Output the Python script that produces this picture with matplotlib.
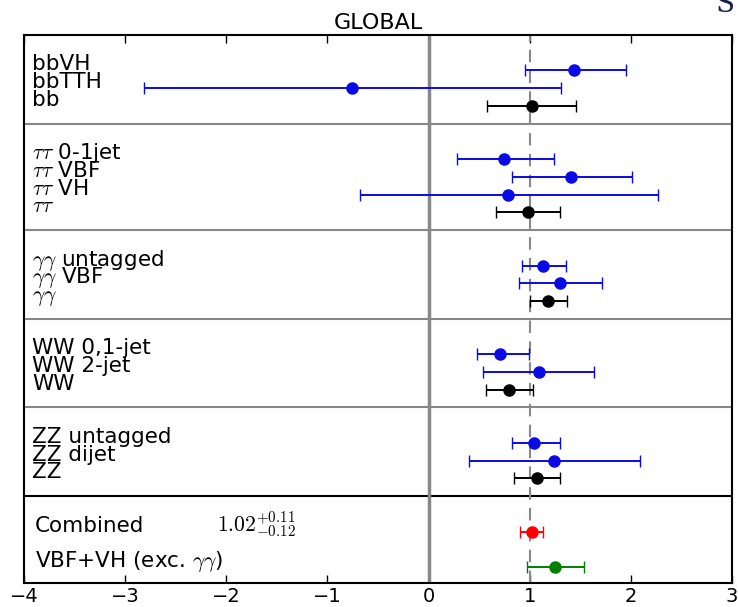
import numpy as np
import matplotlib.pyplot as plt
import matplotlib.transforms as mtransforms

plt.rcParams['mathtext.fontset'] = 'cm'
plt.rcParams['font.family'] = 'DejaVu Sans'

# data------------------------------------------------------------------------#
bb_labels = ['bbVH', 'bbTTH', 'bb']
bb_mu = [1.44, -0.76, 1.02]
bb_lo = [0.95, -2.81, 0.58]
bb_hi = [1.95, 1.31, 1.46]

tt_labels = [r'$\tau\tau$ 0-1jet', r'$\tau\tau$ VBF', r'$\tau\tau$ VH', r'$\tau\tau$']
tt_mu = [0.75, 1.41, 0.79, 0.98]
tt_lo = [0.28, 0.82, -0.68, 0.67]
tt_hi = [1.24, 2.01, 2.27, 1.30]

gg_labels = [r'$\gamma\gamma$ untagged', r'$\gamma\gamma$ VBF', r'$\gamma\gamma$']
gg_mu = [1.13, 1.30, 1.18]
gg_lo = [0.92, 0.89, 1.00]
gg_hi = [1.36, 1.71, 1.37]

ww_labels = ['WW 0,1-jet', 'WW 2-jet', 'WW']
ww_mu = [0.71, 1.09, 0.80]
ww_lo = [0.48, 0.54, 0.57]
ww_hi = [0.99, 1.64, 1.03]

zz_labels = ['ZZ untagged', 'ZZ dijet', 'ZZ']
zz_mu = [1.04, 1.24, 1.07]
zz_lo = [0.82, 0.40, 0.84]
zz_hi = [1.30, 2.09, 1.30]

comb_mu = 1.02
comb_up = 0.11
comb_dn = 0.12

vbfvh_label = r'VBF+VH (exc. $\gamma\gamma$)'
vbfvh_mu = 1.25
vbfvh_lo = 0.97
vbfvh_hi = 1.54

xticks = [-4, -3, -2, -1, 0, 1, 2, 3]

# figure----------------------------------------------------------------------#
fig = plt.figure(figsize=(7.38, 6.07), dpi=100)
ax = fig.add_axes([24/738, 1-583/607, 708/738, 548/607])
lab = mtransforms.blended_transform_factory(ax.transAxes, ax.transData)
fs = 15.5

def errpt(y, mu, lo, hi, c, lw=1.4):
    ax.errorbar([mu], [y], xerr=[[mu-lo], [hi-mu]], fmt='o', color=c, ecolor=c,
                ms=8, mec=c, elinewidth=lw, capsize=4, capthick=1, zorder=4)

groups = [(bb_labels, bb_mu, bb_lo, bb_hi),
          (tt_labels, tt_mu, tt_lo, tt_hi),
          (gg_labels, gg_mu, gg_lo, gg_hi),
          (ww_labels, ww_mu, ww_lo, ww_hi),
          (zz_labels, zz_mu, zz_lo, zz_hi)]

top = 0
for labels, mu, lo, hi in groups:
    n = len(labels)
    for i in range(n):
        y = top + 2 + i
        c = 'k' if i == n-1 else '#0a0ae6'
        errpt(y, mu[i], lo[i], hi[i], c)
        ax.text(0.012, y, labels[i], transform=lab, fontsize=fs, va='baseline')
    top += n + 2
    ax.axhline(top, color='k' if top >= 26 else '#888888', lw=1.5, zorder=2)

# combined
errpt(top+2, comb_mu, comb_mu-comb_dn, comb_mu+comb_up, 'r')
ax.text(0.015, top+2, 'Combined', transform=lab, fontsize=fs, va='baseline')
ax.text(0.272, top+2, r'$%.2f^{+%.2f}_{-%.2f}$' % (comb_mu, comb_up, comb_dn),
        transform=lab, fontsize=15.5, va='baseline')
errpt(top+4, vbfvh_mu, vbfvh_lo, vbfvh_hi, 'g')
ax.text(0.015, top+4, vbfvh_label, transform=lab, fontsize=fs, va='baseline')

ax.axvline(0, color='#888888', lw=2.5, zorder=2)
ax.axvline(1, color='#888888', lw=1.5, ls=(0, (6, 4)), zorder=2)

ax.set_xlim(-4, 3)
ax.set_ylim(top+4.9, 0)
ax.set_xticks(xticks)
ax.set_xticklabels([str(t).replace('-', '\u2212') for t in xticks], fontsize=14)
ax.set_yticks([])
ax.tick_params(axis='x', direction='in', top=True, length=6, width=1, pad=3)
for s in ax.spines.values():
    s.set_linewidth(1.5)
ax.set_title('GLOBAL', fontsize=16, pad=4)

fig.text(0.983, 0.993, 'S', fontsize=20, family='DejaVu Serif', color='#15204a',
         ha='center', va='center')

fig.savefig('out.png', dpi=100)
